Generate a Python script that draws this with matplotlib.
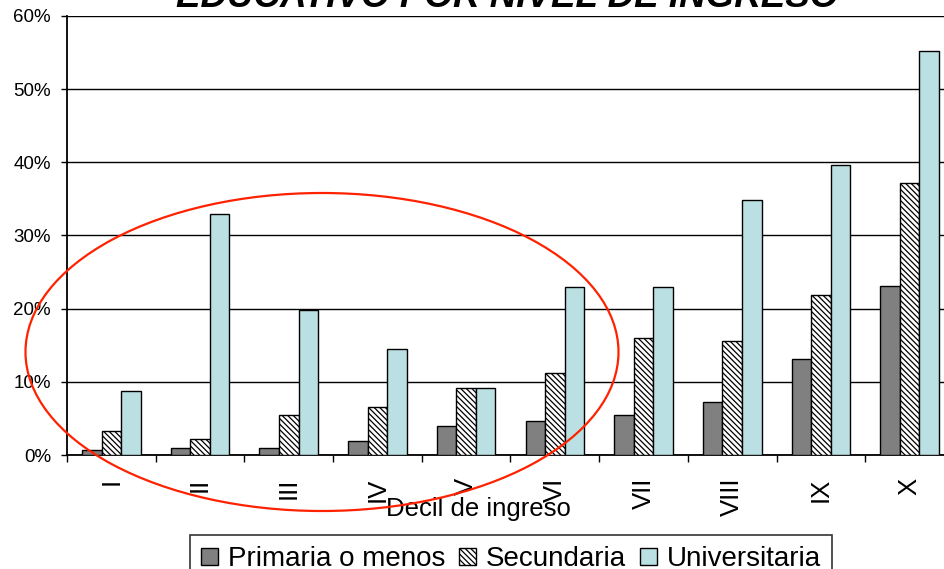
import numpy as np
import matplotlib
matplotlib.use("Agg")
import matplotlib.pyplot as plt
from matplotlib.patches import Ellipse
from matplotlib.ticker import PercentFormatter

plt.rcParams['font.family'] = ['Liberation Sans', 'DejaVu Sans']
plt.rcParams['hatch.linewidth'] = 0.9

# datos (%)
deciles = ['I', 'II', 'III', 'IV', 'V', 'VI', 'VII', 'VIII', 'IX', 'X']
primaria = [0.7, 0.9, 0.9, 1.9, 3.9, 4.6, 5.4, 7.2, 13.1, 23.1]
secundaria = [3.3, 2.2, 5.4, 6.5, 9.1, 11.2, 16.0, 15.6, 21.9, 37.2]
universitaria = [8.8, 33.0, 19.8, 14.5, 9.1, 23.0, 23.0, 34.8, 39.6, 55.2]
series = ['Primaria o menos', 'Secundaria', 'Universitaria']

fig = plt.figure(figsize=(9.45, 5.69), dpi=100)
ax = fig.add_axes([67/945, 114/569, 887/945, 439/569])

x = np.arange(len(deciles))
w = 0.22
ax.bar(x - w, np.array(primaria)/100, w, color='#808080', edgecolor='black', lw=1, label=series[0], zorder=3)
ax.bar(x, np.array(secundaria)/100, w, color='white', edgecolor='black', lw=1, hatch='\\\\\\\\\\\\', label=series[1], zorder=3)
ax.bar(x + w, np.array(universitaria)/100, w, color='#BBE0E3', edgecolor='black', lw=1, label=series[2], zorder=3)

ax.set_xlim(-0.5, len(deciles) - 0.5)
ax.set_ylim(0, 0.6)
ax.set_yticks(np.arange(0, 0.61, 0.1))
ax.yaxis.set_major_formatter(PercentFormatter(1.0, decimals=0))
ax.yaxis.grid(True, color='black', lw=1)
ax.set_axisbelow(True)

ax.set_xticks(np.arange(-0.5, len(deciles)), [''] * (len(deciles) + 1))
ax.set_xticks(x, deciles, minor=True, rotation=90)
ax.tick_params(axis='x', which='major', direction='out', length=5, width=1)
ax.tick_params(axis='x', which='minor', length=0, pad=16.5, labelsize=18.5)
ax.tick_params(axis='y', direction='out', length=4.5, width=1, pad=7, labelsize=13.5)

for s in ['top', 'right']:
    ax.spines[s].set_visible(False)
for s in ['left', 'bottom']:
    ax.spines[s].set_linewidth(1.3)

fig.text(478/945, 1 - 516/569, 'Decil de ingreso', ha='center', va='baseline', fontsize=18.5)
fig.text(507/945, 1 - 7/569, 'EDUCATIVO POR NIVEL DE INGRESO', ha='center', va='baseline',
         fontsize=26.5, fontweight='bold', fontstyle='italic')

leg = fig.legend(loc='upper center', bbox_to_anchor=(511/945, 1 - 535/569), ncol=3,
                 fontsize=20, frameon=True, fancybox=False, edgecolor='black',
                 handlelength=0.6, handleheight=0.6, handletextpad=0.37,
                 columnspacing=0.5, borderpad=0.4, borderaxespad=0)
leg.get_frame().set_linewidth(1.2)

# ovalo rojo de anotacion
ell = Ellipse((322/945, 1 - 352/569), 593/945, 318/569, transform=fig.transFigure,
              fill=False, edgecolor='#FF2200', lw=1.6, zorder=10)
fig.add_artist(ell)

fig.savefig('out.png', dpi=100)
